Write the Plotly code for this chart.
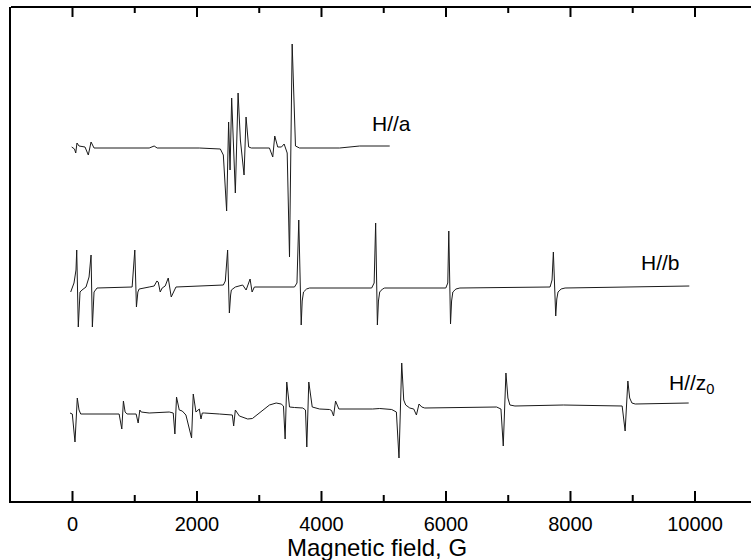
import plotly.graph_objects as go

# ---------------- data (field in G, signal in arbitrary units relative to each baseline) ----------------
field_a = [-13, 32, 52, 72, 105, 201, 254, 298, 346, 1232, 1312, 1360, 2037, 2375, 2423, 2476, 2508,
           2531, 2557, 2616, 2660, 2697, 2756, 2788, 2830, 2874, 3164, 3217, 3249, 3297, 3357, 3400,
           3449, 3486, 3529, 3582, 3647, 4291, 4613, 5096]
signal_a = [0, -2, -6, 4, 1, 0, -8, 5, -1, -1, 1, -1, -1, -2, -8, -64, 25,
            -23, 49, -46, 54, 7, -28, 30, 0, -1, -1, -10, 11, 0, 0, 3,
            -6, -110, 103, 1, -1, -1, 1, 1]

field_b = [-29, 24, 56, 68, 93, 108, 121, 153, 217, 266, 298, 319, 333, 346, 394, 958, 1001, 1027,
           1050, 1071, 1232, 1312, 1356, 1377, 1409, 1441, 1489, 1538, 1586, 1662, 2423, 2455, 2492,
           2520, 2540, 2552, 2616, 2734, 2789, 2853, 2885, 2922, 3566, 3606, 3635, 3674, 3690, 3711,
           3760, 3808, 4806, 4846, 4870, 4898, 4915, 4935, 4980, 5015, 5997, 6029, 6045, 6073, 6090,
           6110, 6160, 6223, 7672, 7704, 7725, 7763, 7780, 7800, 7850, 7913, 9909]
signal_b = [-5, 4, 17, 37, -40, -12, -5, -3, 0, 10, 32, -40, -12, -5, -1, 0, 37, -20,
            -5, -2, 0, 1, 6, 5, -5, -1, 1, 9, -10, 0, 2, 6, 37,
            -26, -8, -3, 0, 2, -3, 8, -5, 0, 0, 4, 67, -38, -14, -5,
            -2, -1, -1, 4, 64, -38, -14, -5, -2, -1, -1, 4, 56, -37, -14,
            -5, -2, -1, 0, 7, 35, -29, -12, -5, -2, -1, 1]

field_z = [-40, -3, 40, 77, 105, 132, 749, 792, 818, 845, 877, 1022, 1055, 1082, 1103, 1232, 1554,
           1618, 1645, 1671, 1715, 1763, 1822, 1913, 1940, 1983, 2037, 2064, 2085, 2117, 2359, 2568,
           2589, 2616, 2681, 2814, 2890, 3003, 3083, 3164, 3272, 3352, 3389, 3416, 3442, 3486, 3566,
           3700, 3743, 3764, 3796, 3851, 3969, 4130, 4162, 4194, 4226, 4279, 4822, 4935, 5128, 5203,
           5245, 5289, 5321, 5353, 5418, 5482, 5525, 5567, 5611, 5659, 6813, 6883, 6920, 6963, 6995,
           7027, 7108, 7886, 8830, 8878, 8922, 8951, 8987, 9040, 9899]
signal_z = [-3, -4, -32, 12, 0, -4, -4, -19, 9, -2, -4, -4, -13, 0, -2, -3, -2,
            -3, -24, 13, 0, -1, -5, -28, 16, -2, 1, -9, -3, -3, -4, -5,
            -16, 0, -6, -9, -8.5, -3, 1, 5, 7, 6, 4, -29, 28, 3, 2.5,
            2, 0, -37, 28, 3, 1, 0.5, -0.5, -6, 9, 1, 1, 1.5, 0.5, -2,
            -48, 47, 10, 5, 2, 1, -5, 6, 3, 2, 3, 1, -36, 37, 12,
            5, 4, 5, 4, -21, 29, 12, 7, 6, 7]

labels = ["H//a", "H//b", "H//z<sub>0</sub>"]
x_title = "Magnetic field, G"
major_ticks = [0, 2000, 4000, 6000, 8000, 10000]
minor_ticks = [1000, 3000, 5000, 7000, 9000]

# vertical offsets of the stacked spectra
offset_a, offset_b, offset_z = 354, 214, 91

FONT = "Liberation Sans, Arial, Helvetica, sans-serif"
LINE = "#1a1a1a"
X_RANGE = [-988, 10900]

fig = go.Figure()
for fx, sy, off in [(field_a, signal_a, offset_a), (field_b, signal_b, offset_b), (field_z, signal_z, offset_z)]:
    fig.add_trace(go.Scatter(x=fx, y=[v + off for v in sy], mode="lines",
                             line=dict(color=LINE, width=1), showlegend=False, hoverinfo="skip"))

lab_font = dict(family=FONT, size=21, color="black")
fig.add_annotation(x=4779, y=offset_a + 23.5, text=labels[0], showarrow=False, xanchor="left",
                   yanchor="middle", font=lab_font)
fig.add_annotation(x=9100, y=offset_b + 25, text=labels[1], showarrow=False, xanchor="left",
                   yanchor="middle", font=lab_font)
fig.add_annotation(x=9550, y=offset_z + 26, text=labels[2], showarrow=False, xanchor="left",
                   yanchor="middle", font=lab_font)
fig.add_annotation(x=0.494, xref="paper", y=(501 - 547) / 494, yref="paper", text=x_title,
                   showarrow=False, xanchor="center", yanchor="middle", borderpad=0,
                   font=dict(family=FONT, size=24, color="black"))

# frame top edge and inward tick marks on bottom and top edges (placed on the x scale)
tick_line = dict(color="black", width=2)
fig.add_shape(type="line", xref="paper", yref="paper", x0=0, x1=1, y0=1, y1=1, line=tick_line)
for vals, length in [(major_ticks, 10), (minor_ticks, 6)]:
    for v in vals:
        fig.add_shape(type="line", xref="x", yref="paper", x0=v, x1=v, ysizemode="pixel",
                      yanchor=0, y0=0, y1=length, line=tick_line)
        fig.add_shape(type="line", xref="x", yref="paper", x0=v, x1=v, ysizemode="pixel",
                      yanchor=1, y0=0, y1=-length, line=tick_line)

fig.update_layout(
    width=751, height=560,
    margin=dict(l=11, r=0, t=7, b=59, autoexpand=False),
    paper_bgcolor="white", plot_bgcolor="white",
    font=dict(family=FONT, size=20, color="black"),
    xaxis=dict(range=X_RANGE, showgrid=False, zeroline=False, automargin=False,
               showline=True, linecolor="black", linewidth=2,
               tickmode="array", tickvals=major_ticks, ticktext=[str(v) for v in major_ticks],
               ticks="", ticklabelstandoff=4,
               tickfont=dict(family=FONT, size=20, color="black")),
    yaxis=dict(range=[0, 494], showgrid=False, zeroline=False, showticklabels=False, automargin=False,
               ticks="", showline=True, linecolor="black", linewidth=2),
)

fig.write_html("out.html", config={"displayModeBar": False},
               post_script="document.body.style.margin='0px';document.body.style.padding='0px';")
